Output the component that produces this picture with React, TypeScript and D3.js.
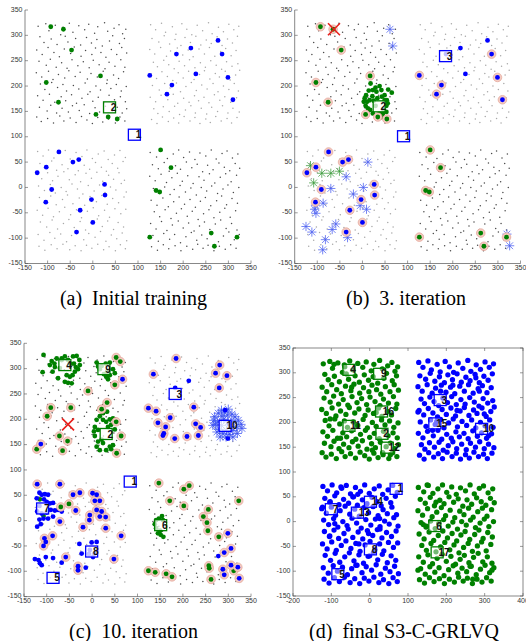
import React from 'react';
import * as d3 from 'd3';

// ---------------- data ----------------
const bgTL = [[-121,318],[-104,323],[-97,309],[-83,320],[-71,301],[-66,316],[-52,324],[-44,306],[-31,319],[-18,311],[-9,322],[4,304],[11,317],[26,325],[33,308],[47,314],[58,321],[66,303],[73,312],
[-117,297],[-108,286],[-92,293],[-79,282],[-61,298],[-55,287],[-38,294],[-27,281],[-14,296],[-3,285],[9,292],[21,279],[37,289],[44,299],[59,284],[70,294],
[-124,271],[-112,262],[-99,276],[-86,266],[-74,258],[-63,273],[-49,264],[-41,277],[-26,259],[-16,270],[-2,262],[6,275],[18,266],[29,257],[41,272],[53,262],[64,276],[75,265],
[-119,249],[-103,241],[-94,253],[-81,237],[-69,246],[-57,235],[-46,252],[-33,240],[-21,248],[-8,236],[1,251],[14,242],[27,234],[36,247],[49,239],[62,252],[71,237],
[-125,226],[-113,218],[-98,229],[-88,213],[-76,223],[-62,216],[-53,230],[-39,219],[-28,227],[-12,214],[-4,225],[10,218],[23,229],[32,212],[46,222],[57,215],[68,228],
[-116,204],[-106,193],[-91,207],[-78,197],[-66,203],[-58,190],[-43,201],[-31,194],[-17,206],[-6,189],[7,200],[17,192],[31,205],[40,195],[52,203],[63,190],[74,199],
[-122,181],[-110,172],[-96,184],[-84,168],[-70,179],[-60,171],[-47,183],[-36,166],[-24,176],[-11,184],[0,170],[12,178],[25,167],[36,182],[48,173],[61,179],[72,169],
[-118,158],[-101,151],[-93,162],[-80,147],[-68,156],[-54,149],[-45,161],[-30,152],[-19,163],[-7,146],[5,157],[15,149],[28,160],[43,151],[54,158],[65,147],[75,155],
[-124,139],[-114,130],[-100,136],[-87,127],[-73,141],[-64,131],[-50,137],[-37,128],[-25,140],[-13,133],[-1,126],[11,138],[22,129],[35,135],[50,127],[60,139],[71,131]];

const bgTR = [[128,321],[139,311],[152,324],[161,306],[176,317],[184,302],[197,323],[208,312],[219,301],[231,320],[243,309],[256,325],[264,303],[278,316],[289,307],[301,322],[312,311],[323,318],
[131,294],[146,287],[158,299],[170,283],[182,292],[195,280],[204,296],[216,286],[228,298],[239,281],[251,291],[262,284],[275,297],[286,280],[298,293],[309,285],[320,298],
[126,272],[137,263],[150,276],[163,259],[172,269],[187,275],[199,261],[211,271],[222,258],[235,273],[247,263],[258,276],[270,259],[283,268],[294,274],[306,260],[317,270],
[134,247],[143,238],[157,251],[168,242],[180,234],[191,249],[203,240],[214,252],[226,236],[238,246],[249,237],[261,250],[273,241],[285,233],[296,248],[308,239],[321,244],
[129,224],[141,215],[153,228],[165,219],[177,211],[189,226],[200,216],[212,229],[224,213],[236,223],[247,230],[259,214],[271,225],[280,218],[293,229],[304,212],[316,222],[325,231],
[132,201],[147,192],[159,205],[171,196],[185,206],[194,189],[206,199],[218,207],[229,191],[241,202],[253,194],[266,205],[277,189],[289,200],[301,193],[313,205],[322,190],
[127,178],[139,169],[151,182],[166,173],[178,184],[188,166],[201,176],[213,168],[225,181],[234,171],[246,178],[257,167],[269,183],[281,172],[292,179],[305,168],[318,177],
[135,155],[144,146],[156,159],[169,150],[181,160],[192,144],[205,153],[217,161],[227,147],[240,156],[252,145],[263,158],[276,150],[287,161],[299,147],[310,156],[324,149],
[130,134],[142,126],[154,139],[167,130],[179,137],[190,127],[202,140],[215,131],[226,138],[237,126],[250,135],[260,128],[272,140],[284,131],[297,136],[307,127],[319,138]];

const bgBL = [[-122,71],[-110,62],[-98,74],[-86,58],[-73,67],[-61,73],[-50,56],[-37,69],[-24,61],[-13,74],[-1,57],[12,66],[25,72],[34,55],[48,64],[60,73],[72,59],
[-117,47],[-104,39],[-91,52],[-80,34],[-68,45],[-55,37],[-42,50],[-32,33],[-19,44],[-7,36],[6,49],[19,40],[30,32],[43,47],[55,38],[67,51],
[-125,26],[-113,17],[-100,29],[-89,13],[-77,22],[-64,31],[-52,15],[-39,25],[-27,11],[-15,28],[-3,18],[9,30],[22,12],[35,24],[46,16],[58,29],[70,14],
[-120,3],[-107,-6],[-94,6],[-83,-11],[-70,0],[-59,-8],[-46,7],[-34,-3],[-22,-13],[-10,4],[3,-7],[15,5],[27,-10],[39,1],[51,-5],[63,8],[74,-9],
[-118,-20],[-105,-30],[-93,-17],[-81,-34],[-67,-24],[-56,-15],[-44,-32],[-30,-21],[-18,-35],[-6,-18],[8,-28],[20,-16],[32,-33],[44,-22],[57,-30],[69,-19],
[-123,-45],[-111,-55],[-99,-41],[-87,-58],[-74,-48],[-62,-39],[-49,-54],[-36,-44],[-25,-60],[-12,-47],[1,-40],[13,-56],[26,-45],[37,-59],[49,-42],[62,-52],[73,-43],
[-116,-68],[-102,-78],[-90,-64],[-78,-82],[-65,-71],[-53,-63],[-41,-79],[-28,-67],[-16,-84],[-4,-70],[10,-62],[21,-77],[33,-66],[46,-83],[56,-69],[68,-78],
[-121,-93],[-108,-104],[-95,-89],[-84,-100],[-71,-92],[-58,-107],[-47,-95],[-33,-88],[-20,-103],[-9,-91],[5,-98],[17,-87],[29,-106],[41,-94],[53,-101],[65,-90],[75,-105],
[-119,-116],[-106,-124],[-92,-113],[-79,-121],[-66,-112],[-51,-123],[-39,-115],[-26,-125],[-14,-114],[-2,-120],[11,-112],[24,-123],[36,-117],[50,-125],[61,-113],[72,-121]];

const bgBR = [[127,69],[141,60],[153,73],[165,57],[178,66],[190,74],[201,59],[214,70],[226,55],[237,68],[250,62],[262,74],[273,56],[286,67],[297,72],[309,58],[321,66],
[132,45],[145,37],[158,49],[169,32],[183,43],[194,36],[207,50],[219,39],[231,46],[243,31],[254,44],[266,35],[279,48],[291,40],[303,33],[315,47],[325,38],
[126,22],[138,13],[151,26],[163,10],[175,19],[187,28],[198,12],[210,23],[222,8],[235,21],[246,14],[258,27],[270,9],[282,20],[294,27],[306,11],[318,24],
[134,-2],[147,-11],[159,1],[171,-14],[180,-4],[193,4],[205,-9],[217,-1],[229,-15],[240,0],[252,-7],[263,3],[276,-12],[288,-3],[299,5],[311,-10],[323,0],
[129,-25],[142,-35],[155,-21],[167,-38],[179,-28],[191,-19],[203,-33],[215,-24],[227,-39],[238,-27],[249,-20],[261,-36],[274,-26],[285,-17],[296,-34],[308,-22],[320,-31],
[136,-48],[148,-58],[160,-44],[173,-61],[185,-51],[196,-42],[209,-57],[220,-47],[233,-63],[245,-52],[257,-44],[268,-60],[281,-49],[292,-41],[304,-59],[316,-46],
[128,-71],[140,-82],[152,-67],[164,-85],[176,-74],[189,-66],[200,-80],[212,-70],[224,-86],[236,-76],[247,-68],[259,-83],[271,-72],[283,-64],[295,-81],[307,-71],[319,-84],
[133,-95],[145,-106],[157,-91],[170,-102],[181,-93],[194,-109],[206,-97],[218,-89],[230,-104],[241,-94],[253,-101],[265,-90],[278,-107],[289,-96],[301,-88],[313,-103],[324,-93],
[130,-117],[143,-124],[156,-113],[168,-121],[182,-115],[195,-125],[208,-116],[221,-122],[232,-112],[244,-120],[255,-114],[268,-125],[280,-116],[293,-122],[305,-113],[317,-120]];

const bgSets = [bgTL, bgTR, bgBL, bgBR];
const bgClass = ['g', 'b', 'b', 'g'];

const labeledGreen = [[-93,317],[-65,312],[-47,271],[-103,207],[17,220],[-76,168],[7,144],[34,139],[54,135],
[150,74],[173,39],[140,-6],[148,-9],[126,-98],[262,-90],[269,-116],[319,-98]];
const labeledBlue = [[126,221],[175,202],[164,184],[185,263],[217,275],[277,290],[286,263],[228,224],[299,217],[310,173],
[-75,70],[-103,40],[-123,29],[-44,50],[-31,55],[-91,-4],[26,6],[27,-15],[-3,-24],[-104,-29],[-28,-45],[0,-69],[-36,-88]];
const bNoHaloBlue = [3, 4, 5, 7];

const bGreenCluster = [[18,205],[29,197],[38,200],[42,192],[31,189],[23,192],[14,191],[8,182],[5,176],[3,169],[7,161],[12,156],[8,144],[17,153],
[25,171],[33,176],[43,179],[49,182],[54,172],[56,166],[53,161],[47,153],[38,146],[34,140],[45,145],[53,149],[42,139],[23,146],[29,161],[16,172],
[22,180],[10,169],[49,172],[57,193],[65,187]];
const bGreenStars = [[-115,43],[-90,28],[-70,28],[-51,32],[-108,9]];
const bBlueStars = [[61,312],[67,279],[12,50],[-36,21],[-70,-2],[-20,-13],[2,0],[-87,-31],[-104,-35],[-106,-43],[-103,-51],[-5,-36],[9,-43],
[-59,-72],[-67,-83],[-125,-77],[-112,-88],[-82,-103],[-88,-123],[-33,-99],[320,-92],[326,-115]];
const bCross = [[-63,312]];

const cGreenPlain = [[-107,327],[-89,315],[-83,310],[-93,307],[-78,320],[-67,320],[-60,324],[-53,317],[-42,324],[-34,325],[-28,317],[-27,307],[-36,303],
[-38,294],[-43,287],[-49,284],[-56,287],[-71,301],[-82,303],[-87,294],[-109,293],[-75,281],[-60,274],[-53,272],[-45,271],[-67,317],[-49,310],[-40,310],[-31,299],
[10,312],[21,305],[30,310],[39,312],[46,299],[50,291],[39,287],[31,284],[35,279],[26,289],[17,299],[33,294],[13,304],
[17,222],[24,212],[33,215],[17,206],[10,199],[24,199],[31,195],[39,200],[46,202],[42,189],[35,185],[50,180],[6,185],[4,176],[13,179],[6,167],
[13,156],[10,146],[21,160],[24,153],[39,146],[46,149],[42,141],[31,139],[17,139],
[141,1],[147,4],[154,9],[138,-7],[141,-15],[145,-25],[151,-28],[157,-32],[150,-20],[156,1],
[-115,42],[-107,9]];
const cGreenHalo = [[53,322],[62,314],[50,268],[-9,256],[33,233],[21,220],[-91,223],[-47,223],[-99,206],[-72,167],[-54,157],[-65,138],[-122,141],
[53,195],[64,167],[54,133],[-69,27],[-51,33],
[147,74],[214,69],[202,62],[171,39],[202,29],[245,8],[253,-4],[255,-20],[279,-32],[256,22],[323,39],[124,-99],[139,-102],[163,-105],[176,-111],
[257,-89],[258,-94],[262,-116],[312,-99]];
const cBluePlain = [[-116,55],[-111,51],[-104,52],[-97,51],[-122,44],[-106,42],[-100,37],[-93,34],[-116,29],[-121,18],[-111,14],[-100,16],[-91,21],
[-82,20],[-86,8],[-116,2],[-107,4],[-97,4],[-121,-12],[-113,-7],[-75,21],[-67,18],[-86,35],
[-126,-76],[-118,-78],[-115,-84],[-111,-88],[-102,-72],[-86,-74],[-67,-83],[-28,-46],[-23,-65],[-14,-93],[-1,-43],[10,-42],[2,-72],[-5,-58],[-7,-66],[5,-65],
[213,276],[183,262],[299,162],[293,218],[301,191],[278,-70]];
const cBlueHalo = [[-121,72],[-71,72],[-42,51],[-27,55],[-36,20],[-71,-2],[-105,-35],[-102,-42],[-107,-50],[-87,-30],[-20,-13],[-5,11],[-6,1],
[1,54],[10,51],[17,39],[6,39],[10,21],[21,18],[30,7],[17,8],[30,-15],[64,-30],[-58,-72],[-31,-90],[-31,-98],[48,-76],
[185,320],[135,289],[281,307],[297,286],[272,291],[280,262],[124,222],[141,216],[145,193],[162,185],[158,172],[156,168],[182,162],[172,203],
[224,224],[228,191],[239,184],[234,168],[209,166],[-113,151],[67,279],
[299,-25],[306,-55],[291,-63],[306,-88],[288,-96],[291,-107],[321,-92],[324,-114]];
const cBlueStars = [[270,205],[278,212],[285,218],[292,214],[300,220],[308,210],[315,205],[322,198],[328,190],[318,185],[310,178],[302,170],
[295,165],[288,172],[280,180],[272,190],[268,198],[276,195],[290,200],[300,195],[312,195],[305,185],[285,188],[296,178],[320,172],[282,165],
[310,165],[275,175],[330,182],[266,188],[298,208],[286,206]];
const cCross = [[-53,190]];

// prototypes: [id, x, y, class]
const protoA = [[1,92,104,'b'],[2,37,158,'g']];
const protoB = [[1,91,101,'b'],[2,37,160,'g'],[3,184,259,'b']];
const protoC = [[1,84,77,'b'],[2,31,171,'g'],[3,183,250,'b'],[4,-60,307,'g'],[5,-86,-113,'b'],[6,151,-9,'g'],[7,-109,24,'b'],[8,-1,-61,'b'],[9,26,299,'g'],[10,293,187,'b']];
const protoD = [[1,69,66,'b'],[2,32,177,'g'],[3,184,245,'b'],[4,-54,306,'g'],[5,-83,-106,'b'],[6,170,-9,'g'],[7,-100,25,'b'],[8,2,-56,'b'],[9,26,298,'g'],
[10,292,187,'b'],[11,-54,193,'g'],[12,46,149,'g'],[13,-32,18,'b'],[14,2,40,'b'],[15,170,198,'b'],[16,31,222,'g'],[17,176,-62,'g']];

const ticksABC = [-150,-100,-50,0,50,100,150,200,250,300,350];
const ticksDx = [-200,-100,0,100,200,300,400];
const captions = [['(a)','Initial training'],['(b)','3. iteration'],['(c)','10. iteration'],['(d)','final S3-C-GRLVQ']];

// ---------------- styles / layout ----------------
const COL = { g: '#008000', b: '#0000ff' };
const GRAY = { g: '#4a4a4a', b: '#a8a8a8' };
const TICKFONT = '"Liberation Sans", Arial, Helvetica, sans-serif';

const panels = [
  { xd: [-150, 350], xr: [25, 251], yr: [263.5, 10], xt: ticksABC, box: false, capX: 133.5, capY: 305 },
  { xd: [-150, 350], xr: [294.7, 520.5], yr: [263.5, 10], xt: ticksABC, box: false, capX: 406, capY: 305 },
  { xd: [-150, 350], xr: [24, 251], yr: [596.6, 343.3], xt: ticksABC, box: false, capX: 133.5, capY: 638 },
  { xd: [-200, 400], xr: [293, 523], yr: [596, 348], xt: ticksDx, box: true, capX: 404, capY: 638 },
];

function Axes({ p, x, y }) {
  const [x0, x1] = p.xr;
  const [y0, y1] = p.yr;
  const stroke = '#555';
  const tl = 3;
  return (
    <g>
      {p.box ? (
        <rect x={x0} y={y1} width={x1 - x0} height={y0 - y1} fill="none" stroke={stroke} strokeWidth={0.7} />
      ) : (
        <g>
          <line x1={x0} y1={y0} x2={x1} y2={y0} stroke={stroke} strokeWidth={0.7} />
          <line x1={x0} y1={y0} x2={x0} y2={y1} stroke={stroke} strokeWidth={0.7} />
        </g>
      )}
      {p.xt.map((t) => (
        <g key={'x' + t}>
          <line x1={x(t)} x2={x(t)} y1={y0} y2={y0 - tl} stroke={stroke} strokeWidth={0.6} />
          {p.box && <line x1={x(t)} x2={x(t)} y1={y1} y2={y1 + tl} stroke={stroke} strokeWidth={0.6} />}
          <text x={x(t)} y={y0 + 6.5} fontSize={7} fontFamily={TICKFONT} fill="#333" textAnchor="middle">{String(t)}</text>
        </g>
      ))}
      {ticksABC.map((t) => (
        <g key={'y' + t}>
          <line x1={x0} x2={x0 + tl} y1={y(t)} y2={y(t)} stroke={stroke} strokeWidth={0.6} />
          {p.box && <line x1={x1} x2={x1 - tl} y1={y(t)} y2={y(t)} stroke={stroke} strokeWidth={0.6} />}
          <text x={x0 - 2.5} y={y(t) + 1.6} fontSize={7} fontFamily={TICKFONT} fill="#333" textAnchor="end">{String(t)}</text>
        </g>
      ))}
    </g>
  );
}

function Dots({ pts, x, y, color, r = 2.4, halo = false }) {
  return (
    <g>
      {halo && pts.map((d, i) => (
        <circle key={'h' + i} cx={x(d[0])} cy={y(d[1])} r={4.3} fill="#f3cbc2" stroke="#e4a497" strokeWidth={0.7} />
      ))}
      {pts.map((d, i) => (
        <circle key={i} cx={x(d[0])} cy={y(d[1])} r={r} fill={color} />
      ))}
    </g>
  );
}

function Stars({ pts, x, y, color }) {
  const s = 4.6, q = 3.4;
  return (
    <g stroke={color} strokeWidth={0.75} fill="none">
      {pts.map((d, i) => {
        const cx = x(d[0]), cy = y(d[1]);
        const path = `M${cx - s},${cy}L${cx + s},${cy}M${cx},${cy - s}L${cx},${cy + s}M${cx - q},${cy - q}L${cx + q},${cy + q}M${cx - q},${cy + q}L${cx + q},${cy - q}`;
        return <path key={i} d={path} />;
      })}
    </g>
  );
}

function Cross({ pts, x, y }) {
  const s = 6;
  return (
    <g stroke="#e8201c" strokeWidth={1.6}>
      {pts.map((d, i) => {
        const cx = x(d[0]), cy = y(d[1]);
        return <path key={i} d={`M${cx - s},${cy - s}L${cx + s},${cy + s}M${cx - s},${cy + s}L${cx + s},${cy - s}`} />;
      })}
    </g>
  );
}

function Protos({ list, x, y, fillOpacity = 0.75 }) {
  const w = 12, h = 11;
  return (
    <g>
      {list.map((p) => {
        const cx = x(p[1]), cy = y(p[2]);
        return (
          <g key={p[0]}>
            <rect x={cx - w / 2} y={cy - h / 2} width={w} height={h} fill="#fff" fillOpacity={fillOpacity} stroke={COL[p[3]]} strokeWidth={1.3} />
            <text x={cx + 1.3} y={cy + 3.6} fontSize={10} fontWeight="bold" fontFamily={TICKFONT} fill="#111">{String(p[0])}</text>
          </g>
        );
      })}
    </g>
  );
}

function Background({ x, y }) {
  return (
    <g>
      {bgSets.map((set, k) => (
        <g key={k}>
          {set.map((d, i) => (
            <circle key={i} cx={x(d[0])} cy={y(d[1])} r={0.75} fill={GRAY[bgClass[k]]} />
          ))}
        </g>
      ))}
    </g>
  );
}

function Caption({ p, idx }) {
  const [lab, txt] = captions[idx];
  return (
    <text x={p.capX} y={p.capY} fontSize={20} fontFamily='"Liberation Serif", "Times New Roman", serif' textAnchor="middle" fill="#000" style={{ whiteSpace: 'pre' }}>
      {lab + '\u00a0\u00a0' + txt}
    </text>
  );
}

export default function App() {
  const sc = panels.map((p) => ({
    x: d3.scaleLinear().domain(p.xd).range(p.xr),
    y: d3.scaleLinear().domain([-150, 350]).range(p.yr),
  }));
  const haloBlueB = labeledBlue.filter((_, i) => !bNoHaloBlue.includes(i));
  const plainBlueB = labeledBlue.filter((_, i) => bNoHaloBlue.includes(i));
  return (
    <svg width={526} height={641} style={{ position: 'absolute', left: 0, top: 0, display: 'block', background: '#fff' }}>
      <rect width={526} height={641} fill="#fff" />
      {/* (a) */}
      <g>
        <Axes p={panels[0]} x={sc[0].x} y={sc[0].y} />
        <Background x={sc[0].x} y={sc[0].y} />
        <Dots pts={labeledGreen} x={sc[0].x} y={sc[0].y} color={COL.g} />
        <Dots pts={labeledBlue} x={sc[0].x} y={sc[0].y} color={COL.b} />
        <Protos list={protoA} x={sc[0].x} y={sc[0].y} />
        <Caption p={panels[0]} idx={0} />
      </g>
      {/* (b) */}
      <g>
        <Axes p={panels[1]} x={sc[1].x} y={sc[1].y} />
        <Background x={sc[1].x} y={sc[1].y} />
        <Stars pts={bBlueStars} x={sc[1].x} y={sc[1].y} color="#4a5ef0" />
        <Stars pts={bGreenStars} x={sc[1].x} y={sc[1].y} color="#3a9a3a" />
        <Dots pts={bGreenCluster} x={sc[1].x} y={sc[1].y} color={COL.g} />
        <Dots pts={labeledGreen} x={sc[1].x} y={sc[1].y} color={COL.g} halo />
        <Dots pts={haloBlueB} x={sc[1].x} y={sc[1].y} color={COL.b} halo />
        <Dots pts={plainBlueB} x={sc[1].x} y={sc[1].y} color={COL.b} />
        <Cross pts={bCross} x={sc[1].x} y={sc[1].y} />
        <Protos list={protoB} x={sc[1].x} y={sc[1].y} />
        <Caption p={panels[1]} idx={1} />
      </g>
      {/* (c) */}
      <g>
        <Axes p={panels[2]} x={sc[2].x} y={sc[2].y} />
        <Background x={sc[2].x} y={sc[2].y} />
        <Stars pts={cBlueStars} x={sc[2].x} y={sc[2].y} color="#3a50f0" />
        <Dots pts={cGreenPlain} x={sc[2].x} y={sc[2].y} color={COL.g} />
        <Dots pts={cBluePlain} x={sc[2].x} y={sc[2].y} color={COL.b} />
        <Dots pts={cGreenHalo} x={sc[2].x} y={sc[2].y} color={COL.g} halo />
        <Dots pts={cBlueHalo} x={sc[2].x} y={sc[2].y} color={COL.b} halo />
        <Cross pts={cCross} x={sc[2].x} y={sc[2].y} />
        <Protos list={protoC} x={sc[2].x} y={sc[2].y} />
        <Caption p={panels[2]} idx={2} />
      </g>
      {/* (d) */}
      <g>
        <Axes p={panels[3]} x={sc[3].x} y={sc[3].y} />
        {bgSets.map((set, k) => (
          <Dots key={k} pts={set} x={sc[3].x} y={sc[3].y} color={COL[bgClass[k]]} r={2.65} />
        ))}
        <Dots pts={labeledGreen} x={sc[3].x} y={sc[3].y} color={COL.g} r={2.65} />
        <Dots pts={labeledBlue} x={sc[3].x} y={sc[3].y} color={COL.b} r={2.65} />
        <Protos list={protoD} x={sc[3].x} y={sc[3].y} fillOpacity={0.45} />
        <Caption p={panels[3]} idx={3} />
      </g>
    </svg>
  );
}
